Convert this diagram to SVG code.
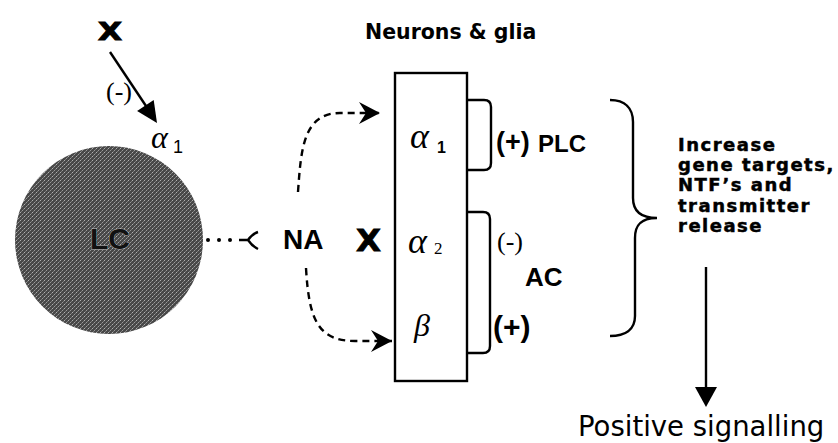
<svg xmlns="http://www.w3.org/2000/svg" width="838" height="443" viewBox="0 0 838 443">
<defs>
<style>
.ln{fill:none;stroke:#000;stroke-width:2.4}
.ds{fill:none;stroke:#000;stroke-width:2.4;stroke-dasharray:7 5}
.vb{font-family:"DejaVu Sans",Verdana,sans-serif;font-weight:bold}
.vr{font-family:"DejaVu Sans",Verdana,sans-serif}
.ab{font-family:"Liberation Sans",Arial,sans-serif;font-weight:bold}
.ar{font-family:"Liberation Sans",Arial,sans-serif}
.tr{font-family:"Liberation Serif","Times New Roman",serif}
.gi{font-family:"Liberation Serif","Times New Roman",serif;font-style:italic}
</style>
<pattern id="tex" width="4" height="4" patternUnits="userSpaceOnUse">
<rect width="4" height="4" fill="#484848"/>
<rect x="0" y="0" width="1" height="1" fill="#b0b0b0"/>
<rect x="2" y="2" width="1" height="1" fill="#9a9a9a"/>
<rect x="1" y="3" width="1" height="1" fill="#7a7a7a"/>
<rect x="3" y="1" width="1" height="1" fill="#7a7a7a"/>
</pattern>
<marker id="sw" markerUnits="userSpaceOnUse" markerWidth="24" markerHeight="24" viewBox="-22 -12 24 24" refX="0" refY="0" orient="auto">
<path d="M0,0 L-21,-11 L-14,0 L-21,11 Z" fill="#000"/>
</marker>
</defs>

<g id="LC">
<circle cx="109" cy="240" r="94" fill="url(#tex)"/>
<text class="ab" x="110" y="249" font-size="30" text-anchor="middle" fill="#111" stroke="#bbb" stroke-width="0.8" paint-order="stroke">LC</text>
</g>

<g id="X-top">
<text class="vb" x="98" y="40" font-size="25" textLength="24" lengthAdjust="spacingAndGlyphs" stroke="#000" stroke-width="1">X</text>
</g>
<g id="alpha1-LC">
<text class="gi" x="151" y="148" font-size="32">α</text>
<text class="ar" x="173" y="153" font-size="18">1</text>
</g>
<g id="minus-top"><text class="tr" x="106" y="100" font-size="26">(-)</text></g>

<g id="NA"><text class="ab" x="283" y="249" font-size="28">NA</text></g>
<g id="X-mid">
<text class="vb" x="356" y="251" font-size="31" textLength="25" lengthAdjust="spacingAndGlyphs" stroke="#000" stroke-width="0.8">X</text>
</g>

<g id="title"><text class="vb" x="365" y="39" font-size="20.5">Neurons &amp; glia</text></g>

<g id="cell">
<rect x="395" y="73" width="72" height="308" fill="#fff" stroke="#000" stroke-width="2.4"/>
<text class="gi" x="410" y="148" font-size="36">α</text>
<text class="ab" x="437" y="153" font-size="16">1</text>
<text class="gi" x="408" y="253" font-size="36">α</text>
<text class="tr" x="434" y="254" font-size="17">2</text>
<text class="gi" x="414" y="336" font-size="32">β</text>
</g>

<g id="PLC">
<path class="ln" d="M467,100 L484,100 Q491,100 491,107 L491,163 Q491,170 484,170 L467,170"/>
<text class="ab" x="496" y="151" font-size="27">(+)</text>
<text class="ab" x="538" y="152" font-size="24">PLC</text>
</g>

<g id="AC">
<path class="ln" d="M467,212 L483,212 Q490,212 490,219 L490,346 Q490,353 483,353 L467,353"/>
<text class="tr" x="497" y="250" font-size="26">(-)</text>
<text class="ab" x="525" y="286" font-size="26">AC</text>
<text class="ab" x="493" y="337" font-size="30">(+)</text>
</g>

<g id="effects">
<path class="ln" d="M610,100 C625,100 633,108 633,122 L633,198 C633,210 640,218 657,218 C640,218 635,226 635,238 L635,316 C635,330 625,336 610,336"/>
<text class="vb" font-size="18" letter-spacing="1.5" stroke="#000" stroke-width="0.5">
<tspan x="678" y="151">Increase</tspan>
<tspan x="678" y="171">gene targets,</tspan>
<tspan x="678" y="191">NTF’s and</tspan>
<tspan x="678" y="212">transmitter</tspan>
<tspan x="678" y="232">release</tspan>
</text>
</g>

<g id="output"><text class="vr" x="578" y="436" font-size="27.5">Positive signalling</text></g>

<g id="connectors">
<line class="ln" x1="110" y1="52" x2="146" y2="106"/>
<path d="M157,123 L137.1,111 L153.7,100 Z" fill="#000"/>
<circle cx="208" cy="240" r="2"/>
<circle cx="219" cy="240" r="2"/>
<circle cx="230" cy="240" r="2"/>
<path class="ln" d="M239,240 L248,240 M258,232 Q252,234 248,240 Q252,246 258,249"/>
<path class="ds" d="M298,192 C301,150 303,113 340,113 L380,113" marker-end="url(#sw)"/>
<path class="ds" d="M306,268 C309,320 318,341 355,341 L392,341" marker-end="url(#sw)"/>
<line class="ln" x1="706" y1="267" x2="706" y2="389"/>
<path d="M695,387 L717,387 L706,407 Z" fill="#000"/>
</g>
</svg>
